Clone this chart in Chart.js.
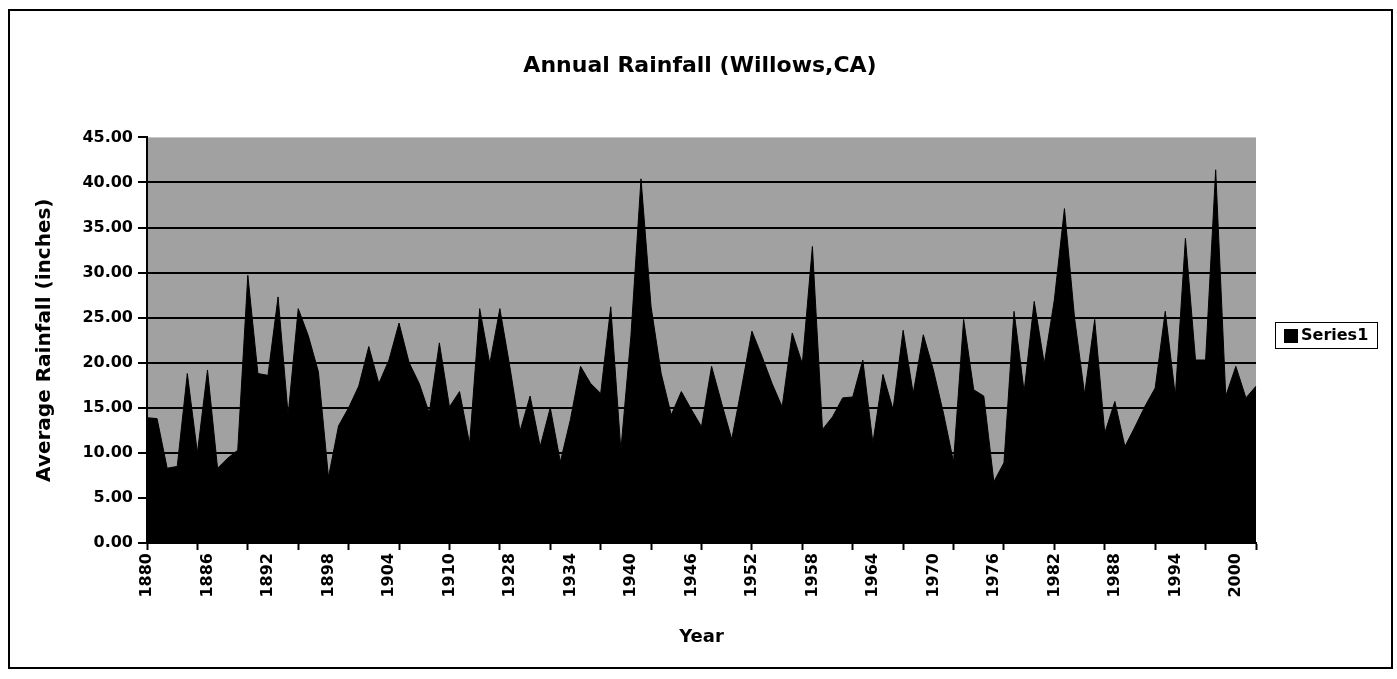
<!DOCTYPE html>
<html>
<head>
<meta charset="utf-8">
<title>Annual Rainfall (Willows,CA)</title>
<script src="https://cdn.jsdelivr.net/npm/chart.js@4.4.1/dist/chart.umd.min.js"></script>
<style>
  html, body { margin: 0; padding: 0; background: #fff; }
  #wrap { width: 1397px; height: 679px; }
</style>
</head>
<body>
<div id="wrap"><canvas id="rainChart" width="1397" height="679"></canvas></div>
<script>
// years as they appear in the sheet (a few years are missing between 1910 and 1928)
var years = [
    1880, 1881, 1882, 1883, 1884, 1885, 1886, 1887, 1888, 1889,
    1890, 1891, 1892, 1893, 1894, 1895, 1896, 1897, 1898, 1899,
    1900, 1901, 1902, 1903, 1904, 1905, 1906, 1907, 1908, 1909,
    1910, 1911, 1912, 1913, 1926, 1927, 1928, 1929, 1930, 1931,
    1932, 1933, 1934, 1935, 1936, 1937, 1938, 1939, 1940, 1941,
    1942, 1943, 1944, 1945, 1946, 1947, 1948, 1949, 1950, 1951,
    1952, 1953, 1954, 1955, 1956, 1957, 1958, 1959, 1960, 1961,
    1962, 1963, 1964, 1965, 1966, 1967, 1968, 1969, 1970, 1971,
    1972, 1973, 1974, 1975, 1976, 1977, 1978, 1979, 1980, 1981,
    1982, 1983, 1984, 1985, 1986, 1987, 1988, 1989, 1990, 1991,
    1992, 1993, 1994, 1995, 1996, 1997, 1998, 1999, 2000, 2001, 2002
];

// average rainfall (inches)
var rainfall = [
    13.9, 13.8, 8.3, 8.5, 18.8, 10.0, 19.2, 8.3, 9.4, 10.3,
    29.7, 18.8, 18.6, 27.3, 14.2, 26.0, 23.0, 19.0, 7.3, 13.0,
    15.0, 17.4, 21.8, 17.7, 20.3, 24.4, 20.0, 17.7, 14.4, 22.2,
    15.1, 16.8, 11.0, 26.0, 19.9, 26.0, 19.5, 12.4, 16.3, 10.7,
    15.0, 9.0, 13.7, 19.6, 17.7, 16.6, 26.2, 10.3, 23.0, 40.4,
    26.2, 18.8, 14.2, 16.8, 14.8, 12.9, 19.6, 15.5, 11.5, 17.4,
    23.5, 20.7, 17.7, 15.1, 23.3, 19.9, 32.9, 12.6, 14.0, 16.1,
    16.2, 20.3, 11.1, 18.7, 14.8, 23.6, 16.6, 23.1, 19.2, 14.4,
    9.0, 24.8, 17.0, 16.3, 6.8, 8.9, 25.7, 16.8, 26.8, 19.9,
    27.0, 37.1, 25.0, 16.5, 24.8, 12.2, 15.7, 10.7, 12.9, 15.2,
    17.2, 25.7, 16.3, 33.8, 20.3, 20.3, 41.4, 16.3, 19.6, 16.1, 17.4
];

// year labels printed under the axis
var shownYears = [1880, 1886, 1892, 1898, 1904, 1910, 1928, 1934, 1940, 1946,
                  1952, 1958, 1964, 1970, 1976, 1982, 1988, 1994, 2000];

var yMax = 45;
var yStep = 5;

var FONT = "'Comic Sans MS', 'DejaVu Sans', sans-serif";
Chart.defaults.font.family = FONT;
Chart.defaults.color = '#000';

// white page, outer frame, grey plot area and the boxed legend
var framePlugin = {
    id: 'frame',
    beforeDraw: function (chart) {
        var c = chart.ctx, a = chart.chartArea;
        c.save();
        c.fillStyle = '#fff';
        c.fillRect(0, 0, chart.width, chart.height);
        c.fillStyle = '#a1a1a1';
        c.fillRect(a.left, a.top, a.right - a.left, a.bottom - a.top);
        c.restore();
    },
    afterDraw: function (chart) {
        var c = chart.ctx;
        var ds = chart.data.datasets[0];
        c.save();
        c.strokeStyle = '#000';
        c.lineWidth = 2;
        c.strokeRect(9, 10, 1383, 658);

        // legend
        c.lineWidth = 1;
        c.strokeRect(1275.5, 322.5, 102, 26);
        c.fillStyle = ds.backgroundColor;
        c.fillRect(1284, 329, 14, 14);
        c.fillStyle = '#000';
        c.font = 'bold 16px ' + FONT;
        c.textBaseline = 'middle';
        c.fillText(ds.label, 1301, 336);
        c.restore();
    }
};

var ctx = document.getElementById('rainChart').getContext('2d');
new Chart(ctx, {
    type: 'line',
    data: {
        labels: years,
        datasets: [{
            label: 'Series1',
            data: rainfall,
            fill: 'origin',
            backgroundColor: '#000',
            borderColor: '#000',
            borderWidth: 1,
            pointRadius: 0,
            tension: 0
        }]
    },
    options: {
        responsive: false,
        animation: false,
        layout: { padding: { left: 10, top: 10, right: 7, bottom: 10 } },
        plugins: {
            legend: { display: false },
            tooltip: { enabled: false },
            title: {
                display: true,
                text: 'Annual Rainfall (Willows,CA)',
                font: { size: 22, weight: 'bold' },
                padding: { top: 43, bottom: 58 }
            }
        },
        scales: {
            x: {
                ticks: {
                    autoSkip: false,
                    minRotation: 90,
                    maxRotation: 90,
                    padding: 3,
                    font: { size: 16, weight: 'bold' },
                    callback: function (v, i) {
                        return shownYears.indexOf(years[i]) >= 0 ? String(years[i]) : '';
                    }
                },
                grid: {
                    drawOnChartArea: false,
                    tickLength: 7,
                    tickWidth: 2,
                    tickColor: function (c) { return c.index % 5 === 0 ? '#000' : 'rgba(0,0,0,0)'; }
                },
                border: { color: '#000', width: 2 },
                title: {
                    display: true,
                    text: 'Year',
                    font: { size: 18, weight: 'bold' },
                    padding: { top: 0, bottom: 21 }
                },
                afterFit: function (s) { s.height = 126; }
            },
            y: {
                min: 0,
                max: yMax,
                ticks: {
                    stepSize: yStep,
                    padding: 5,
                    font: { size: 16, weight: 'bold' },
                    callback: function (v) { return v.toFixed(2); }
                },
                grid: {
                    color: function (c) { return c.tick && c.tick.value === yMax ? 'rgba(0,0,0,0)' : '#000'; },
                    lineWidth: 2,
                    tickLength: 9,
                    tickWidth: 2,
                    tickColor: '#000'
                },
                border: { color: '#000', width: 2 },
                title: {
                    display: true,
                    text: 'Average Rainfall (inches)',
                    font: { size: 20, weight: 'bold' },
                    padding: { top: 23, bottom: 0 }
                },
                afterFit: function (s) { s.width = 137; }
            },
            // empty strip on the right that holds the legend
            legendSpace: {
                position: 'right',
                grid: { display: false },
                ticks: { display: false },
                border: { display: false },
                afterFit: function (s) { s.width = 134; }
            }
        }
    },
    plugins: [framePlugin]
});
</script>
</body>
</html>
